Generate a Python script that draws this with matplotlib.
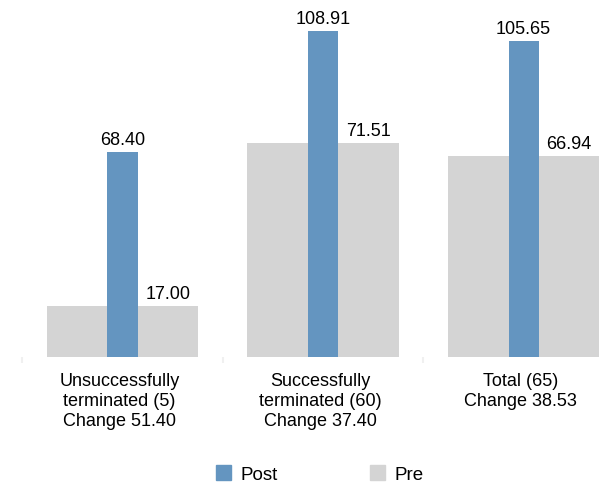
import numpy as np
import matplotlib.pyplot as plt
import matplotlib.transforms as mtransforms
from matplotlib.patches import Patch

plt.rcParams["font.family"] = ["Liberation Sans", "DejaVu Sans"]

categories = ["Unsuccessfully\nterminated (5)\nChange 51.40",
              "Successfully\nterminated (60)\nChange 37.40",
              "Total (65)\nChange 38.53"]
pre_values = [17.00, 71.51, 66.94]
post_values = [68.40, 108.91, 105.65]

post_color = "#6495c0"
pre_color = "#d4d4d4"

fig = plt.figure(figsize=(6.13, 4.85), dpi=100)
ax = fig.add_axes([0.0, 0.2625, 1.0, 0.7375])

x = np.arange(len(categories))
pre_width = 0.755
post_width = 0.15

ax.bar(x, pre_values, width=pre_width, color=pre_color, zorder=1)
ax.bar(x, post_values, width=post_width, color=post_color, zorder=2)

# value labels: post centred on the blue bar, pre over the right half of the gray bar
for xi, pre, post in zip(x, pre_values, post_values):
    ax.text(xi, post + 2.7, f"{post:.2f}", ha="center", va="baseline", fontsize=13)
    ax.text(xi + (post_width / 2 + pre_width / 2) / 2, pre + 2.7, f"{pre:.2f}",
            ha="center", va="baseline", fontsize=13)

ax.set_xlim(-0.611, 2.446)
ax.set_ylim(0, 119.6)
ax.set_xticks(x)
ax.set_xticklabels(categories, fontsize=13, linespacing=1.22)
ax.set_xticks([-0.5, 0.5, 1.5], minor=True)
ax.tick_params(axis="x", which="major", length=0, pad=11)
ax.tick_params(axis="x", which="minor", length=4, color="#f0f0f0", width=1.5)
shift = mtransforms.ScaledTranslation(-3 / 100, 0, fig.dpi_scale_trans)
for lbl in ax.get_xticklabels():
    lbl.set_transform(lbl.get_transform() + shift)
ax.set_yticks([])
for side in ["top", "right", "left", "bottom"]:
    ax.spines[side].set_visible(False)

handles = [Patch(color=post_color, label="Post"), Patch(color=pre_color, label="Pre")]
fig.legend(handles=handles, loc="center", bbox_to_anchor=(0.522, 0.02), ncol=2,
           frameon=False, fontsize=13.5, handlelength=0.8, handleheight=0.85,
           handletextpad=0.5, columnspacing=4.9)

fig.savefig("out.png", dpi=100)
